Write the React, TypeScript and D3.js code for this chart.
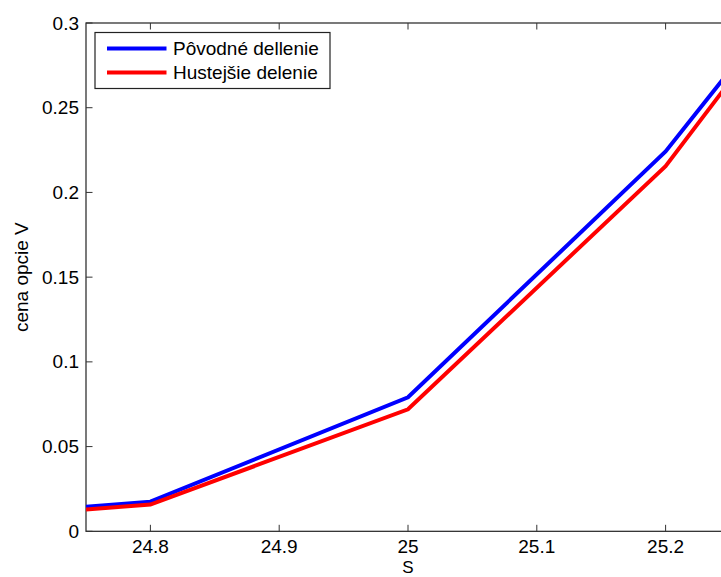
import React, { useEffect, useRef } from "react";
import * as d3 from "d3";

// underlying asset price S
const sValues = [24.75, 24.8, 25.0, 25.2, 25.25];
// option price V on the original grid
const povodneDelenie = [0.0145, 0.0175, 0.0791, 0.2242, 0.272];
// option price V on the finer grid
const hustejsieDelenie = [0.0129, 0.0158, 0.072, 0.2155, 0.2655];

const xTicks = [24.8, 24.9, 25, 25.1, 25.2];
const yTicks = [0, 0.05, 0.1, 0.15, 0.2, 0.25, 0.3];

const seriesNames = ["Pôvodné dellenie", "Hustejšie delenie"];
const seriesColors = ["#0000ff", "#ff0000"];

const FONT = "'Liberation Sans', Arial, Helvetica, sans-serif";

export default function App() {
  const ref = useRef<SVGSVGElement>(null);

  useEffect(() => {
    if (!ref.current) return;
    const svg = d3.select(ref.current);
    svg.selectAll("*").remove();

    const left = 86;
    const right = 730;
    const top = 23;
    const bottom = 531.3;

    const x = d3.scaleLinear().domain([24.75, 25.25]).range([left, right]);
    const y = d3.scaleLinear().domain([0, 0.3]).range([bottom, top]);

    const fmt = (d: number) => String(+d.toFixed(3));

    // plot box
    svg
      .append("rect")
      .attr("x", left)
      .attr("y", top)
      .attr("width", right - left)
      .attr("height", bottom - top)
      .attr("fill", "#fff")
      .attr("stroke", "#222")
      .attr("stroke-width", 1.2);

    // ticks (inward, on all sides)
    const tickLen = 6.5;
    const tg = svg.append("g").attr("stroke", "#333").attr("stroke-width", 1);
    xTicks.forEach((t) => {
      tg.append("line").attr("x1", x(t)).attr("x2", x(t)).attr("y1", bottom).attr("y2", bottom - tickLen);
      tg.append("line").attr("x1", x(t)).attr("x2", x(t)).attr("y1", top).attr("y2", top + tickLen);
    });
    yTicks.forEach((t) => {
      tg.append("line").attr("x1", left).attr("x2", left + tickLen).attr("y1", y(t)).attr("y2", y(t));
      tg.append("line").attr("x1", right).attr("x2", right - tickLen).attr("y1", y(t)).attr("y2", y(t));
    });

    // tick labels
    svg
      .append("g")
      .selectAll("text")
      .data(xTicks)
      .enter()
      .append("text")
      .attr("x", (d) => x(d))
      .attr("y", bottom + 22)
      .attr("text-anchor", "middle")
      .style("font-family", FONT)
      .style("font-size", "19px")
      .style("fill", "#000")
      .text((d) => fmt(d));

    svg
      .append("g")
      .selectAll("text")
      .data(yTicks)
      .enter()
      .append("text")
      .attr("x", left - 7)
      .attr("y", (d) => y(d) + 6.5)
      .attr("text-anchor", "end")
      .style("font-family", FONT)
      .style("font-size", "19px")
      .style("fill", "#000")
      .text((d) => fmt(d));

    // axis labels
    svg
      .append("text")
      .attr("x", (left + right) / 2)
      .attr("y", 573.2)
      .attr("text-anchor", "middle")
      .style("font-family", FONT)
      .style("font-size", "17px")
      .text("S");

    svg
      .append("text")
      .attr("transform", `translate(28,${(top + bottom) / 2}) rotate(-90)`)
      .attr("text-anchor", "middle")
      .style("font-family", FONT)
      .style("font-size", "19px")
      .text("cena opcie V");

    // lines
    const line = d3
      .line<number>()
      .x((_, i) => x(sValues[i]))
      .y((d) => y(d));

    svg
      .append("clipPath")
      .attr("id", "plot-clip")
      .append("rect")
      .attr("x", left)
      .attr("y", top)
      .attr("width", right - left)
      .attr("height", bottom - top);

    [povodneDelenie, hustejsieDelenie].forEach((values, i) => {
      svg
        .append("path")
        .datum(values)
        .attr("d", line)
        .attr("fill", "none")
        .attr("stroke", seriesColors[i])
        .attr("stroke-width", 4)
        .attr("stroke-linejoin", "miter")
        .attr("clip-path", "url(#plot-clip)");
    });

    // legend
    const legend = svg.append("g");
    legend
      .append("rect")
      .attr("x", 95)
      .attr("y", 32.5)
      .attr("width", 235)
      .attr("height", 56)
      .attr("fill", "#fff")
      .attr("stroke", "#222")
      .attr("stroke-width", 1.2);

    seriesNames.forEach((name, i) => {
      const ly = 48.5 + i * 24;
      legend
        .append("line")
        .attr("x1", 107)
        .attr("x2", 166.5)
        .attr("y1", ly)
        .attr("y2", ly)
        .attr("stroke", seriesColors[i])
        .attr("stroke-width", 4);
      legend
        .append("text")
        .attr("x", 173)
        .attr("y", ly + 6.8)
        .style("font-family", FONT)
        .style("font-size", "19px")
        .style("fill", "#000")
        .text(name);
    });
  }, []);

  return (
    <div style={{ position: "fixed", left: 0, top: 0 }}>
      <svg ref={ref} width={721} height={577} style={{ display: "block", background: "#fff" }} />
    </div>
  );
}
